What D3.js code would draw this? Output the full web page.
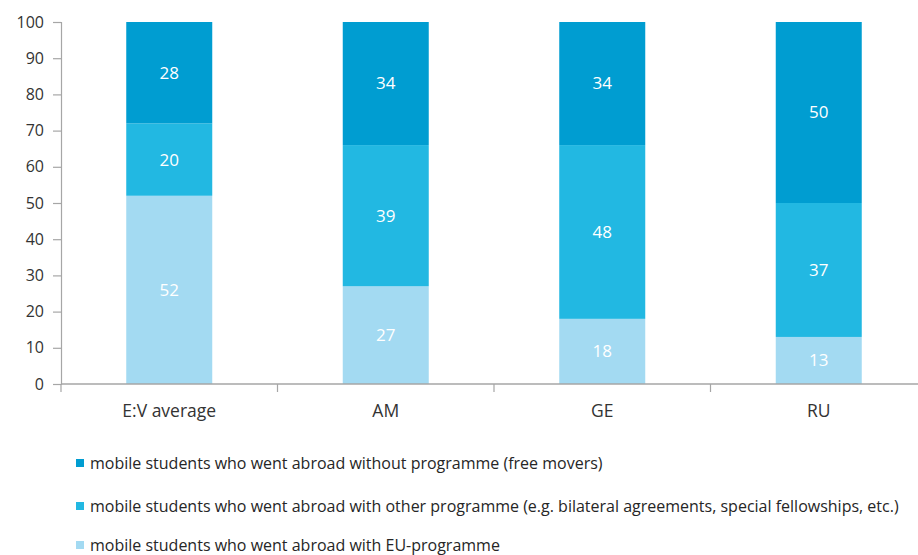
<!DOCTYPE html>
<html>
<head>
<meta charset="utf-8">
<script src="https://cdn.jsdelivr.net/npm/d3@7"></script>
<style>
  html, body { margin: 0; padding: 0; background: #fff; }
  svg { display: block; font-family: "Open Sans", "Noto Sans", sans-serif; }
</style>
</head>
<body>
<svg id="chart" width="918" height="555"></svg>
<script>
// Categories and stacked shares (percent)
const categories = ["E:V average", "AM", "GE", "RU"];
const euProgramme = [52, 27, 18, 13];
const otherProgramme = [20, 39, 48, 37];
const freeMovers = [28, 34, 34, 50];
const yTicks = [0, 10, 20, 30, 40, 50, 60, 70, 80, 90, 100];

const seriesNames = [
  "mobile students who went abroad with EU-programme",
  "mobile students who went abroad with other programme (e.g. bilateral agreements, special fellowships, etc.)",
  "mobile students who went abroad without programme (free movers)"
];
const seriesColors = ["#a3daf2", "#22b8e2", "#009dd1"];

const rows = categories.map((c, i) => ({
  cat: c, s0: euProgramme[i], s1: otherProgramme[i], s2: freeMovers[i]
}));
const keys = ["s0", "s1", "s2"];
const stacked = d3.stack().keys(keys)(rows);

const svg = d3.select("#chart");
const x0 = 61, x1 = 927, yTop = 22, yBottom = 384;
const barWidth = 86;

const xCat = d3.scaleBand().domain(categories).range([x0, x1]);
const y = d3.scaleLinear().domain([0, 100]).range([yBottom, yTop]);

// Bars
const layers = svg.append("g").selectAll("g").data(stacked).join("g")
  .attr("fill", (d, i) => seriesColors[i]);
layers.selectAll("rect").data(d => d).join("rect")
  .attr("x", d => xCat(d.data.cat) + (xCat.bandwidth() - barWidth) / 2)
  .attr("width", barWidth)
  .attr("y", d => y(d[1]))
  .attr("height", d => y(d[0]) - y(d[1]));

// Value labels
layers.selectAll("text").data(d => d).join("text")
  .attr("x", d => xCat(d.data.cat) + xCat.bandwidth() / 2)
  .attr("y", d => (y(d[0]) + y(d[1])) / 2)
  .attr("dy", "0.35em")
  .attr("text-anchor", "middle")
  .attr("fill", "#ffffff")
  .attr("font-size", 17)
  .text(d => d[1] - d[0]);

// Y axis
const yAxis = svg.append("g").attr("transform", `translate(${x0},0)`)
  .call(d3.axisLeft(y).tickValues(yTicks).tickSize(8).tickPadding(9));
yAxis.select(".domain").attr("stroke", "#a6a6a6").attr("stroke-width", 1.2);
yAxis.selectAll(".tick line").attr("stroke", "#a6a6a6").attr("stroke-width", 1.2);
yAxis.selectAll(".tick text").attr("font-size", 16).attr("fill", "#333333")
  .attr("font-family", "Open Sans, sans-serif");

// X axis with separators between categories
const xAxisG = svg.append("g").attr("transform", `translate(0,${yBottom})`);
xAxisG.append("line").attr("x1", x0).attr("x2", 918).attr("y1", 0).attr("y2", 0)
  .attr("stroke", "#a6a6a6").attr("stroke-width", 1.5);
const seps = categories.map(c => xCat(c)).concat([x1]);
xAxisG.selectAll("line.sep").data(seps).join("line").attr("class", "sep")
  .attr("x1", d => d).attr("x2", d => d).attr("y1", 0).attr("y2", 8)
  .attr("stroke", "#a6a6a6").attr("stroke-width", 1.2);
xAxisG.selectAll("text").data(categories).join("text")
  .attr("x", d => xCat(d) + xCat.bandwidth() / 2)
  .attr("y", 33)
  .attr("text-anchor", "middle")
  .attr("font-size", 17.5)
  .attr("fill", "#333333")
  .text(d => d);

// Legend (top to bottom: free movers, other programme, EU-programme)
const legendOrder = [2, 1, 0];
const legendY = [463, 506, 545];
const legend = svg.append("g");
legendOrder.forEach((si, k) => {
  legend.append("rect").attr("x", 76).attr("y", legendY[k] - 4).attr("width", 8).attr("height", 8)
    .attr("fill", seriesColors[si]);
  legend.append("text").attr("x", 90).attr("y", legendY[k]).attr("dy", "0.35em")
    .attr("font-size", 16).attr("fill", "#262626")
    .text(seriesNames[si]);
});
</script>
</body>
</html>
